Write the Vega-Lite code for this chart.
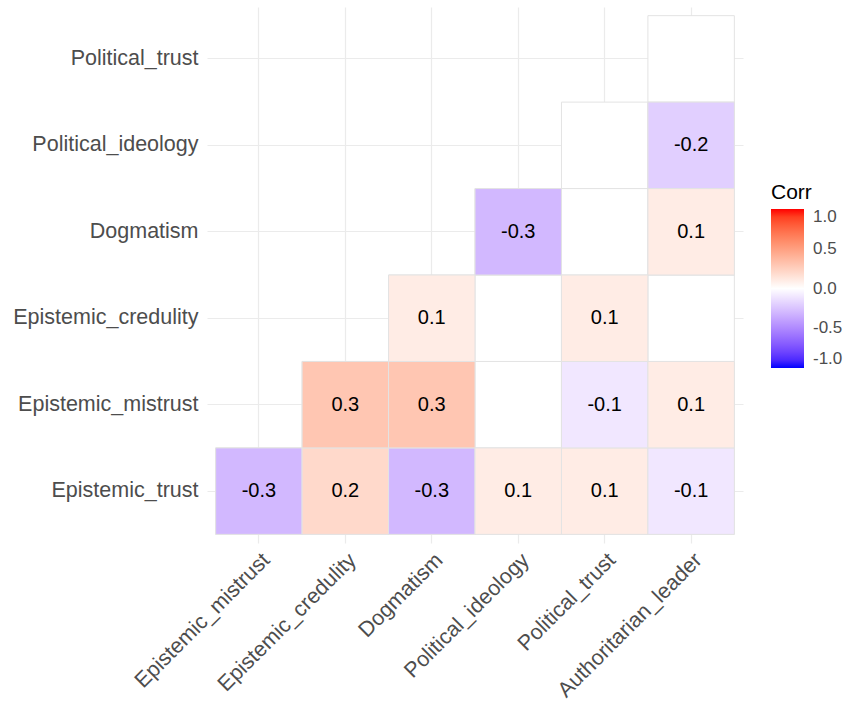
{
  "$schema": "https://vega.github.io/schema/vega-lite/v6.json",
  "autosize": {"type": "none"},
  "padding": {"left": 207, "top": 7, "right": 101, "bottom": 161},
  "width": 536,
  "height": 536,
  "background": "white",
  "config": {
    "view": {"stroke": null},
    "font": "Liberation Sans"
  },
  "data": {
    "values": [
      {"col": "Epistemic_mistrust", "row": "Epistemic_trust", "corr": -0.3, "label": "-0.3"},
      {"col": "Epistemic_credulity", "row": "Epistemic_trust", "corr": 0.2, "label": "0.2"},
      {"col": "Dogmatism", "row": "Epistemic_trust", "corr": -0.3, "label": "-0.3"},
      {"col": "Political_ideology", "row": "Epistemic_trust", "corr": 0.1, "label": "0.1"},
      {"col": "Political_trust", "row": "Epistemic_trust", "corr": 0.1, "label": "0.1"},
      {"col": "Authoritarian_leader", "row": "Epistemic_trust", "corr": -0.1, "label": "-0.1"},
      {"col": "Epistemic_credulity", "row": "Epistemic_mistrust", "corr": 0.3, "label": "0.3"},
      {"col": "Dogmatism", "row": "Epistemic_mistrust", "corr": 0.3, "label": "0.3"},
      {"col": "Political_ideology", "row": "Epistemic_mistrust", "corr": null, "label": ""},
      {"col": "Political_trust", "row": "Epistemic_mistrust", "corr": -0.1, "label": "-0.1"},
      {"col": "Authoritarian_leader", "row": "Epistemic_mistrust", "corr": 0.1, "label": "0.1"},
      {"col": "Dogmatism", "row": "Epistemic_credulity", "corr": 0.1, "label": "0.1"},
      {"col": "Political_ideology", "row": "Epistemic_credulity", "corr": null, "label": ""},
      {"col": "Political_trust", "row": "Epistemic_credulity", "corr": 0.1, "label": "0.1"},
      {"col": "Authoritarian_leader", "row": "Epistemic_credulity", "corr": null, "label": ""},
      {"col": "Political_ideology", "row": "Dogmatism", "corr": -0.3, "label": "-0.3"},
      {"col": "Political_trust", "row": "Dogmatism", "corr": null, "label": ""},
      {"col": "Authoritarian_leader", "row": "Dogmatism", "corr": 0.1, "label": "0.1"},
      {"col": "Political_trust", "row": "Political_ideology", "corr": null, "label": ""},
      {"col": "Authoritarian_leader", "row": "Political_ideology", "corr": -0.2, "label": "-0.2"},
      {"col": "Authoritarian_leader", "row": "Political_trust", "corr": null, "label": ""}
    ]
  },
  "encoding": {
    "x": {
      "field": "col",
      "type": "nominal",
      "sort": ["Epistemic_mistrust", "Epistemic_credulity", "Dogmatism", "Political_ideology", "Political_trust", "Authoritarian_leader"],
      "scale": {"type": "band", "paddingInner": 0, "paddingOuter": 0.1},
      "axis": {
        "title": null,
        "domain": false,
        "ticks": false,
        "grid": true,
        "gridColor": "#ebebeb",
        "gridWidth": 1.2,
        "bandPosition": 0.5,
        "zindex": 0,
        "labelAngle": -45,
        "labelAlign": "right",
        "labelBaseline": "top",
        "labelFontSize": 21.5,
        "labelColor": "#4d4d4d",
        "labelLimit": 0,
        "labelPadding": 6
      }
    },
    "y": {
      "field": "row",
      "type": "nominal",
      "sort": ["Political_trust", "Political_ideology", "Dogmatism", "Epistemic_credulity", "Epistemic_mistrust", "Epistemic_trust"],
      "scale": {"type": "band", "paddingInner": 0, "paddingOuter": 0.1},
      "axis": {
        "title": null,
        "domain": false,
        "ticks": false,
        "grid": true,
        "gridColor": "#ebebeb",
        "gridWidth": 1.2,
        "bandPosition": 0.5,
        "zindex": 0,
        "labelFontSize": 21.5,
        "labelColor": "#4d4d4d",
        "labelLimit": 0,
        "labelPadding": 9
      }
    }
  },
  "layer": [
    {
      "mark": {"type": "rect", "fill": "white", "stroke": "#e3e3e3", "strokeWidth": 1}
    },
    {
      "transform": [{"filter": "datum.corr != null"}],
      "mark": {"type": "rect", "stroke": "#e3e3e3", "strokeWidth": 1},
      "encoding": {
        "color": {
          "field": "corr",
          "type": "quantitative",
          "title": "Corr",
          "scale": {"domain": [-1, 0, 1], "range": ["blue", "white", "red"], "interpolate": "lab"},
          "legend": {
            "orient": "none",
            "legendX": 564,
            "legendY": 175,
            "direction": "vertical",
            "gradientLength": 159,
            "gradientThickness": 33,
            "gradientStrokeWidth": 0,
            "values": [-1, -0.5, 0, 0.5, 1],
            "labelExpr": "replace(format(datum.value, '.1f'), '\u2212', '-')",
            "labelFont": "Liberation Sans",
            "labelFontSize": 17,
            "labelColor": "#4d4d4d",
            "labelOffset": 9,
            "labelLimit": 0,
            "titleFont": "Liberation Sans",
            "titleFontSize": 21,
            "titleFontWeight": "normal",
            "titleColor": "black",
            "titlePadding": 6
          }
        }
      }
    },
    {
      "mark": {"type": "text", "fontSize": 20, "color": "black"},
      "encoding": {"text": {"field": "label"}}
    }
  ]
}
